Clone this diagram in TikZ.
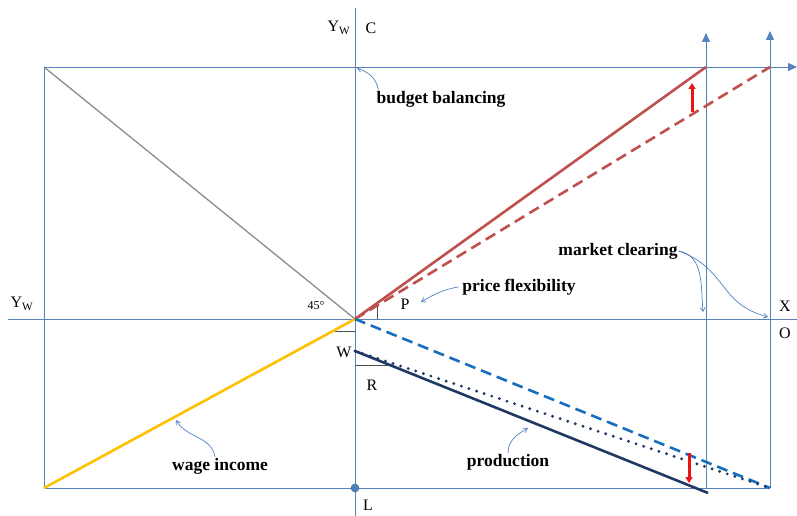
\documentclass[tikz,border=0pt]{standalone}
\usepackage{fontspec}
\setmainfont{Liberation Serif}
\usepackage{tikz}
\usetikzlibrary{positioning, arrows.meta}
\definecolor{AxisBlue}{RGB}{84,130,190}
\definecolor{NoteBlue}{RGB}{79,129,189}
\definecolor{BudgetRed}{RGB}{192,80,77}
\definecolor{WageGold}{RGB}{255,192,0}
\definecolor{ProdNavy}{RGB}{31,56,100}
\definecolor{FlexBlue}{RGB}{23,110,190}
\definecolor{GapRed}{RGB}{235,20,20}

\begin{document}
\begin{tikzpicture}[x=1pt, y=-1pt,
    axis/.style={draw=AxisBlue, line width=0.9pt},
    axisarrow/.style={axis, -{Triangle[length=9pt,width=8pt]}},
    curve/.style={line width=2.6pt},
    note/.style={font=\fontsize{17.5}{19}\selectfont\bfseries, inner sep=1pt},
    lab/.style={font=\fontsize{16}{18}\selectfont, inner sep=1pt},
    hint/.style={draw=NoteBlue, line width=0.7pt, -{Straight Barb[length=4pt,width=5pt]}},
    gap/.style={draw=GapRed, line width=3pt, -{Triangle[length=6pt,width=7pt]}},
    anglemark/.style={draw=black!70, line width=0.7pt}]
  \useasboundingbox (0,0) rectangle (797,516);

  % corners of the four quadrants
  \coordinate (O) at (355,319);
  \coordinate (TL) at (44,67);
  \coordinate (BL) at (44,488);
  \coordinate (TA) at (706,67);
  \coordinate (TB) at (770,67);
  \coordinate (BA) at (706,489);
  \coordinate (BB) at (770,488);
  \coordinate (W) at (355,351);
  \coordinate (PE) at (708,493);
  \coordinate (ctop) at (355,8);
  \coordinate (lbot) at (355,516);
  \coordinate (yleft) at (8,319);
  \coordinate (xright) at (797,319);
  \coordinate (topend) at (797,67);
  \coordinate (vA) at (706,33);
  \coordinate (vB) at (770,31);

  % axes and frame
  \draw[axis, draw=AxisBlue!80!gray] (ctop) -- (lbot);
  \draw[axis, draw=AxisBlue!80!gray] (yleft) -- (xright);
  \draw[axisarrow] (TL) -- (topend);
  \draw[axis] (TL) -- (BL) -- (BB);
  \draw[axisarrow] (BA) -- (vA);
  \draw[axisarrow] (BB) -- (vB);

  % angle marks
  \draw[anglemark] (377,319) -- (377,306);
  \draw[anglemark] (335,331) -- (355,331);
  \draw[anglemark] (355,365) -- (390,365);

  % the four curves
  \draw[draw=black!45, line width=1.3pt] (TL) -- (O);
  \draw[curve, draw=WageGold] (BL) -- (O);
  \draw[curve, draw=BudgetRed, dash pattern=on 11pt off 6pt] (O) -- (TB);
  \draw[curve, draw=BudgetRed] (O) -- (TA);
  \draw[curve, draw=FlexBlue, dash pattern=on 11pt off 6pt] (O) -- (BB);
  \draw[curve, draw=ProdNavy] (W) -- (PE);
  \draw[draw=ProdNavy, line width=3.2pt, line cap=round, dash pattern=on 0pt off 8pt] (W) -- (BB);

  % gaps
  \coordinate (gu1) at (692,112);
  \coordinate (gu2) at (692,83);
  \coordinate (gl1) at (689,453);
  \coordinate (gl2) at (689,483);
  \draw[gap] (gu1) -- (gu2);
  \draw[gap] (gl1) -- (gl2);

  \node[circle, fill=NoteBlue, draw=AxisBlue!70!black, inner sep=0pt, minimum size=8pt] (ldot) at (355,488) {};

  % axis letters
  \node[lab] (yw-top) at (339,28) {Y\textsubscript{W}};
  \node[lab] (c-lab) at (371,28) {C};
  \node[lab] (yw-left) at (22,304) {Y\textsubscript{W}};
  \node[lab] (x-lab) at (785,306) {X};
  \node[lab] (o-lab) at (785,333) {O};
  \node[lab] (l-lab) at (368,505) {L};
  \node[lab] (w-lab) at (344,352) {W};
  \node[lab] (r-lab) at (372,385) {R};
  \node[lab] (p-lab) at (405,304) {P};
  \node[font=\fontsize{12}{14}\selectfont, inner sep=1pt] (deg) at (316,306) {45°};

  % notes
  \node[note] (budget) at (441,99) {budget balancing};
  \node[note] (pflex) at (519,287) {price flexibility};
  \node[note] (mclear) at (618,251) {market clearing};
  \node[note] (wage) at (220,466) {wage income};
  \node[note] (prod) at (508,462) {production};

  \coordinate (bb-tip) at (357,68);
  \coordinate (pf-tip) at (421,302);
  \coordinate (mcA-tip) at (703,312);
  \coordinate (mcB-tip) at (768,317);
  \coordinate (wi-tip) at (176,420);
  \coordinate (pr-tip) at (528,428);
  \draw[hint] ([xshift=3pt]budget.north west) to[out=100, in=-20] (bb-tip);
  \draw[hint] ([xshift=-3pt]pflex.west) to[out=190, in=30] (pf-tip);
  \draw[hint] (mclear.east) to[out=-10, in=95] (mcA-tip);
  \draw[hint] (mclear.east) to[out=-20, in=165, looseness=1.2] (mcB-tip);
  \draw[hint] ([xshift=-5pt]wage.north) to[out=100, in=-60] (wi-tip);
  \draw[hint] (prod.north) to[out=90, in=210] (pr-tip);
\end{tikzpicture}
\end{document}
